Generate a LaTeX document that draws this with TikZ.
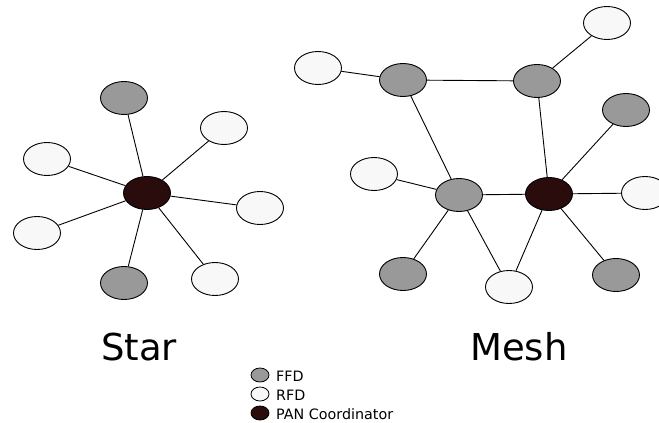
\documentclass[tikz,border=0pt]{standalone}
\usepackage{fontspec}
\setmainfont{DejaVu Sans}
\usetikzlibrary{shapes.geometric}
\definecolor{ffdgray}{HTML}{999999}
\definecolor{rfdwhite}{HTML}{F8F8F8}
\definecolor{pancol}{HTML}{2A0C0C}
\tikzset{
  dev/.style={ellipse, draw=black, line width=0.9pt, minimum width=47pt, minimum height=33pt, inner sep=0pt},
  ffd/.style={dev, fill=ffdgray},
  rfd/.style={dev, fill=rfdwhite},
  pan/.style={dev, fill=pancol},
  link/.style={line width=0.9pt, black},
  keydot/.style={ellipse, draw=black, line width=0.8pt, minimum width=18pt, minimum height=14pt, inner sep=0pt},
  keytext/.style={anchor=west, font=\fontsize{14.3}{16}\selectfont, inner sep=0pt},
  title/.style={font=\fontsize{37}{40}\selectfont, inner sep=0pt}
}
\begin{document}
\begin{tikzpicture}[x=1pt, y=-1pt]
\clip (0,0) rectangle (659,423);
\fill[white] (0,0) rectangle (659,423);

% Star topology
\node[pan] (sc) at (147,193) {};
\node[ffd] (s1) at (124,98) {};
\node[rfd] (s2) at (224,128) {};
\node[rfd] (s3) at (47,159) {};
\node[rfd] (s4) at (260,208) {};
\node[rfd] (s5) at (37,233) {};
\node[ffd] (s6) at (124,283) {};
\node[rfd] (s7) at (215,279) {};
\foreach \n in {s1,s2,s3,s4,s5,s6,s7} {\draw[link] (sc) -- (\n);}

% Mesh topology
\node[rfd] (m1) at (318,68) {};
\node[ffd] (ma) at (403,80) {};
\node[ffd] (mb) at (537,81) {};
\node[rfd] (m2) at (607,23) {};
\node[ffd] (m3) at (626,110) {};
\node[rfd] (m4) at (374,174) {};
\node[ffd] (mc) at (459,195) {};
\node[pan] (mp) at (549,194) {};
\node[rfd] (m5) at (645,193) {};
\node[ffd] (m6) at (403,274) {};
\node[rfd] (m7) at (509,287) {};
\node[ffd] (m8) at (616,275) {};
\draw[link] (m1) -- (ma);
\draw[link] (ma) -- (mb);
\draw[link] (mb) -- (m2);
\draw[link] (ma) -- (mc);
\draw[link] (mb) -- (mp);
\draw[link] (mp) -- (m3);
\draw[link] (mc) -- (m4);
\draw[link] (mc) -- (mp);
\draw[link] (mp) -- (m5);
\draw[link] (mc) -- (m6);
\draw[link] (mc) -- (m7);
\draw[link] (mp) -- (m7);
\draw[link] (mp) -- (m8);

% Titles
\node[title] (tstar) at (139,347) {Star};
\node[title] (tmesh) at (519,347) {Mesh};

% Legend
\node[keydot, fill=ffdgray] (k1) at (260,375) {};
\node[keydot, fill=rfdwhite] (k2) at (260,394) {};
\node[keydot, fill=pancol] (k3) at (260,413) {};
\node[keytext] (l1) at (276,376) {FFD};
\node[keytext] (l2) at (276,395) {RFD};
\node[keytext] (l3) at (276,414) {PAN Coordinator};
\end{tikzpicture}
\end{document}
